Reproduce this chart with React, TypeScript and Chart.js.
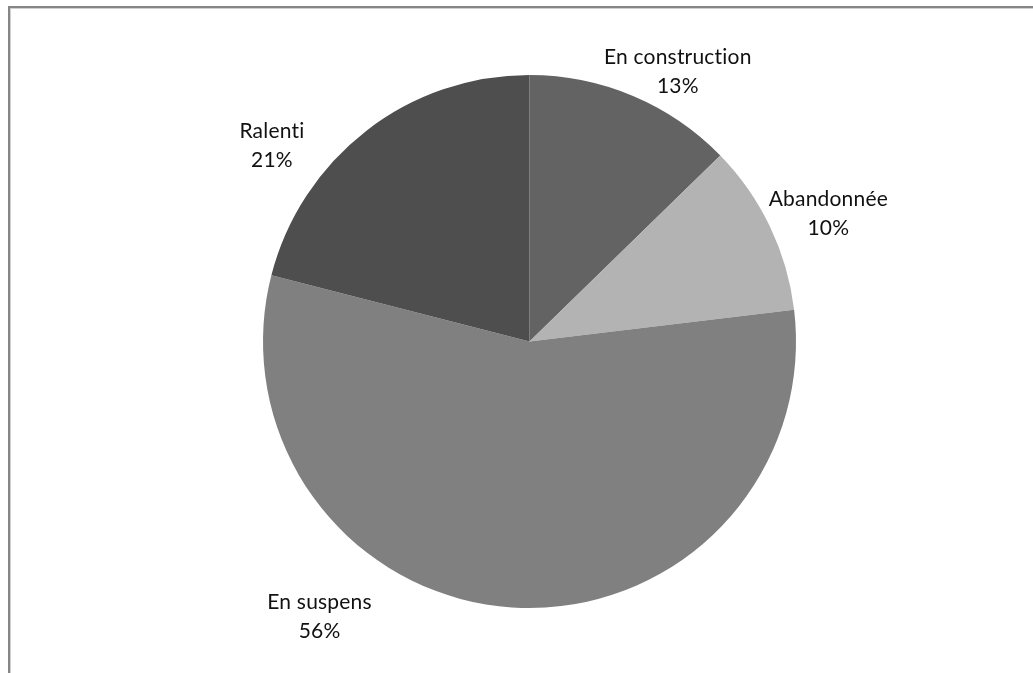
import React, { useEffect, useRef } from "react";
import { Chart, registerables } from "chart.js";

Chart.register(...registerables);

const categories = ["En construction", "Abandonnée", "En suspens", "Ralenti"];
const shares = [12.7, 10.4, 55.9, 21.0];
const percentLabels = ["13%", "10%", "56%", "21%"];
const sliceColors = ["#636363", "#b3b3b3", "#808080", "#4e4e4e"];

// label anchor: angle (degrees clockwise from 12 o'clock) and distance as a fraction of the pie radius
const labelAnchors = [
  { angle: 28.8, dist: 1.155 },
  { angle: 66.8, dist: 1.22 },
  { angle: 217.3, dist: 1.3 },
  { angle: 307.3, dist: 1.215 },
];

const FONT = "Lato, 'Open Sans', sans-serif";

const outsideLabels = {
  id: "outsideLabels",
  afterDatasetsDraw(chart: any) {
    const meta = chart.getDatasetMeta(0);
    const ctx = chart.ctx;
    ctx.save();
    ctx.fillStyle = "#111";
    ctx.font = `21px ${FONT}`;
    try {
      (ctx as any).letterSpacing = "0.2px";
    } catch (e) {}
    ctx.textAlign = "center";
    ctx.textBaseline = "middle";
    meta.data.forEach((arc: any, i: number) => {
      const a = (labelAnchors[i].angle * Math.PI) / 180;
      const r = arc.outerRadius * labelAnchors[i].dist;
      const x = arc.x + Math.sin(a) * r;
      const y = arc.y - Math.cos(a) * r;
      ctx.fillText(categories[i], x, y - 14.5);
      ctx.fillText(percentLabels[i], x, y + 14.5);
    });
    ctx.restore();
  },
};

export default function App() {
  const ref = useRef<HTMLCanvasElement | null>(null);
  useEffect(() => {
    if (!ref.current) return;
    const chart = new Chart(ref.current, {
      type: "pie",
      data: {
        labels: categories,
        datasets: [
          {
            data: shares,
            backgroundColor: sliceColors,
            borderWidth: 0,
          },
        ],
      },
      options: {
        responsive: false,
        animation: false,
        layout: { padding: { left: 263, right: 237, top: 75, bottom: 65 } },
        plugins: {
          legend: { display: false },
          tooltip: { enabled: false },
        },
      },
      plugins: [outsideLabels],
    });
    return () => chart.destroy();
  }, []);

  return (
    <div style={{ position: "fixed", left: 0, top: 0, width: 1033, height: 673, background: "#fff", overflow: "hidden" }}>
      <div
        style={{
          position: "absolute",
          left: 8,
          top: 6,
          width: 1100,
          height: 800,
          borderTop: "2px solid #868686",
          borderLeft: "2px solid #868686",
          boxShadow: "inset 1px 1px 0 #d0d0d0",
        }}
      />
      <canvas ref={ref} width={1033} height={673} style={{ position: "absolute", left: 0, top: 0 }} />
    </div>
  );
}
